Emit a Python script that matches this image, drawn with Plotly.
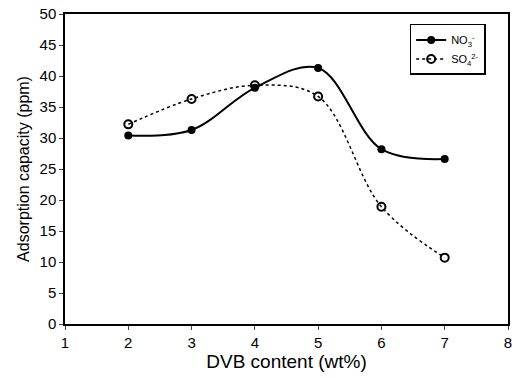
import plotly.graph_objects as go

dvb = [2, 3, 4, 5, 6, 7]
no3 = [30.4, 31.3, 38.1, 41.3, 28.2, 26.6]
so4 = [32.2, 36.3, 38.5, 36.7, 18.9, 10.7]
x_ticks = [1, 2, 3, 4, 5, 6, 7, 8]
y_ticks = [0, 5, 10, 15, 20, 25, 30, 35, 40, 45, 50]

fig = go.Figure()
fig.add_trace(go.Scatter(
    x=dvb, y=no3, name="NO<sub>3</sub><sup>-</sup>",
    mode="lines+markers",
    line=dict(color="black", width=2, shape="spline", smoothing=1.0),
    marker=dict(symbol="circle", size=8, color="black"),
))
fig.add_trace(go.Scatter(
    x=dvb, y=so4, name="SO<sub>4</sub><sup>2-</sup>",
    mode="lines+markers",
    line=dict(color="black", width=1.5, dash="dot", shape="spline", smoothing=1.0),
    marker=dict(symbol="circle-open", size=8, color="black", line=dict(width=2)),
))

font = "Liberation Sans, Arial, sans-serif"
fig.update_layout(
    width=514, height=378,
    margin=dict(l=65, r=2, t=14, b=54),
    paper_bgcolor="white", plot_bgcolor="white",
    font=dict(family=font, color="black", size=15),
    showlegend=True,
    legend=dict(
        x=0.778, y=0.968, xanchor="left", yanchor="top",
        bgcolor="white", bordercolor="black", borderwidth=1.5,
        font=dict(size=11), itemwidth=30,
        tracegroupgap=2,
    ),
    xaxis=dict(
        range=[1, 8], tickvals=x_ticks, ticks="outside", ticklen=4,
        ticklabeloverflow="allow",
        showline=True, linecolor="black", linewidth=1.5, mirror=True,
        showgrid=False, zeroline=False,
        title=dict(text="DVB content (wt%)", font=dict(size=19), standoff=4),
    ),
    yaxis=dict(
        range=[0, 50], tickvals=y_ticks, ticks="outside", ticklen=4,
        showline=True, linecolor="black", linewidth=1.5, mirror=True,
        showgrid=False, zeroline=False,
        title=dict(text="Adsorption capacity (ppm)", font=dict(size=16), standoff=6),
    ),
)
fig.write_html("out.html")
